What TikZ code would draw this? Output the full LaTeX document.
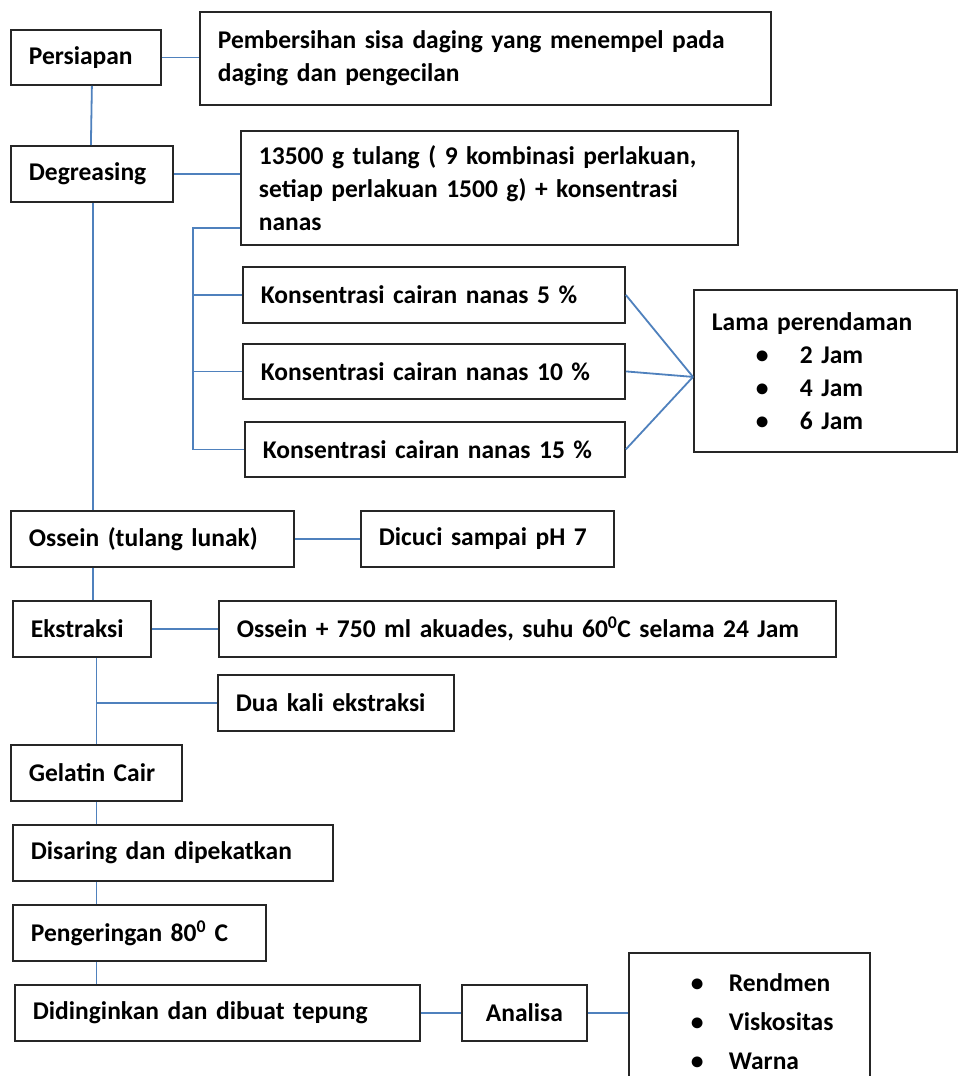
\documentclass[tikz,border=0pt]{standalone}
\usepackage{fontspec}
\setmainfont{Carlito}
\usetikzlibrary{positioning}
\definecolor{LineBlue}{RGB}{79,129,189}

\begin{document}
\begin{tikzpicture}[x=1pt, y=-1pt,
    box/.style={draw=black!85, line width=1.8pt, anchor=north west, inner xsep=18pt, inner ysep=0pt,
                align=left, font=\fontsize{25.5}{33}\selectfont\bfseries},
    link/.style={draw=LineBlue, line width=1.8pt}
  ]
  \clip (0,0) rectangle (958,1076);
  \fill[white] (0,0) rectangle (958,1076);
  % persiapan dan degreasing
  \node[box, text width=114, minimum height=55] (pers) at (10,29) {Persiapan};
  \node[box, text width=535, minimum height=93] (bersih) at (199,11) {Pembersihan sisa daging yang menempel pada\\daging dan pengecilan};
  \node[box, text width=126, minimum height=56] (deg) at (10,145) {Degreasing};
  \node[box, text width=461, minimum height=114] (tulang) at (240,130) {13500 g tulang ( 9 kombinasi perlakuan,\\setiap perlakuan 1500 g) + konsentrasi\\nanas};
  \node[box, text width=346, minimum height=56] (k5) at (242,266) {Konsentrasi cairan nanas 5 \%};
  \node[box, text width=346, minimum height=55] (k10) at (242,343) {Konsentrasi cairan nanas 10 \%};
  \node[box, text width=344, minimum height=55] (k15) at (244,421) {Konsentrasi cairan nanas 15 \%};
  \node[box, text width=227, minimum height=162] (lama) at (693,289) {Lama perendaman\\
    \hspace*{44pt}\makebox[44pt][l]{•}2 Jam\\
    \hspace*{44pt}\makebox[44pt][l]{•}4 Jam\\
    \hspace*{44pt}\makebox[44pt][l]{•}6 Jam};
  % ossein dan ekstraksi
  \node[box, text width=247, minimum height=56] (oss) at (10,510) {Ossein (tulang lunak)};
  \node[box, text width=217, minimum height=56] (cuci) at (360,510) {Dicuci sampai pH 7};
  \node[box, text width=102, minimum height=56] (eks) at (12,600) {Ekstraksi};
  \node[box, text width=581, minimum height=56] (akuades) at (218,600) {Ossein + 750 ml akuades, suhu 60\textsuperscript{0}C selama 24 Jam};
  \node[box, text width=200, minimum height=56] (dua) at (217,674) {Dua kali ekstraksi};
  % gelatin sampai analisa
  \node[box, text width=135, minimum height=56] (gel) at (10,744) {Gelatin Cair};
  \node[box, text width=284, minimum height=56] (saring) at (12,824) {Disaring dan dipekatkan};
  \node[box, text width=217, minimum height=56] (kering) at (12,904) {Pengeringan 80\textsuperscript{0} C};
  \node[box, text width=369, minimum height=56] (dingin) at (14,984) {Didinginkan dan dibuat tepung};
  \node[box, text width=89, minimum height=56, align=center] (ana) at (461,984) {Analisa};
  \node[box, text width=205, minimum height=138, font=\fontsize{25.5}{39}\selectfont\bfseries] (hasil) at (628,952) {%
    \hspace*{44pt}\makebox[38pt][l]{•}Rendmen\\
    \hspace*{44pt}\makebox[38pt][l]{•}Viskositas\\
    \hspace*{44pt}\makebox[38pt][l]{•}Warna};

  \coordinate (brk) at (193,228);
  \coordinate (temu) at ([yshift=-6pt]lama.west);

  \draw[link] (pers.east) -- (pers.east -| bersih.west);
  \draw[link] (deg.north |- pers.south) -- ([xshift=-1pt]deg.north);
  \draw[link] (deg.east) -- (deg.east -| tulang.west);
  \draw[link] (tulang.west |- brk) -- (brk) |- (k15.west);
  \draw[link] (brk |- k5.west) -- (k5.west);
  \draw[link] (brk |- k10.west) -- (k10.west);
  \foreach \k in {k5,k10,k15}
    \draw[link] (\k.east) -- (temu);
  \draw[link] ([xshift=1pt]deg.south) -- ([xshift=1pt]deg.south |- oss.north);
  \draw[link] (oss.east) -- (cuci.west);
  \draw[link] ([xshift=1pt]deg.south |- oss.south) -- ([xshift=1pt]deg.south |- eks.north);
  \draw[link] (eks.east) -- (eks.east -| akuades.west);
  \draw[link] (gel.north |- eks.south) -- (gel.north);
  \draw[link] (gel.north |- dua.west) -- (dua.west);
  \draw[link] (gel.south) -- (gel.south |- saring.north);
  \draw[link] (gel.south |- saring.south) -- (gel.south |- kering.north);
  \draw[link] (gel.south |- kering.south) -- (gel.south |- dingin.north);
  \draw[link] (dingin.east) -- (ana.west);
  \draw[link] (ana.east) -- (ana.east -| hasil.west);
\end{tikzpicture}
\end{document}
